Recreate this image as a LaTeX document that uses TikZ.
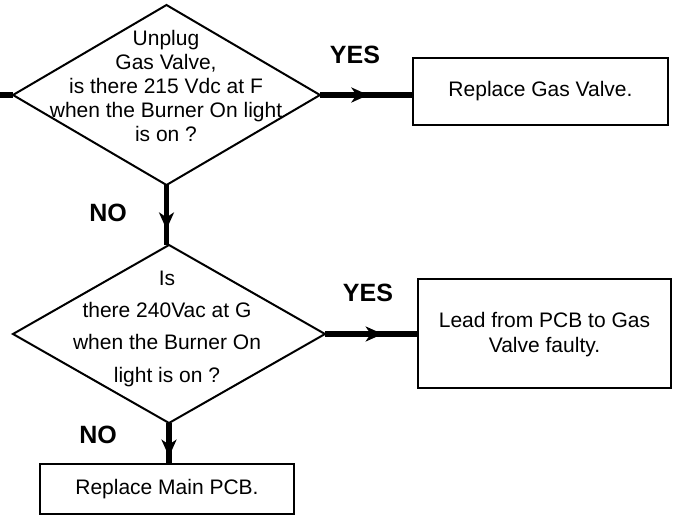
\documentclass[tikz,border=0pt]{standalone}
\usepackage{fontspec}
\setmainfont{Liberation Sans}
\usetikzlibrary{shapes.geometric,arrows.meta,decorations.markings}
\tikzset{
  dia/.style={draw, diamond, line width=2pt, inner sep=0pt, outer sep=0pt},
  box/.style={draw, rectangle, line width=2pt, inner sep=0pt, outer sep=0pt},
  txt/.style={align=center, inner sep=0pt, font=\fontsize{21}{24}\selectfont},
  lbl/.style={inner sep=0pt, font=\fontsize{25}{28}\selectfont\bfseries},
  conn/.style={line width=5.5pt},
  midarrow/.style={postaction={decorate, decoration={markings,
      mark=at position #1 with {\arrow{Stealth[length=17pt,width=15pt,inset=5pt]}}}}}
}
\begin{document}
\begin{tikzpicture}[x=1pt,y=-1pt]
\useasboundingbox (0,0) rectangle (675,517);
% diamonds
\node[dia, minimum width=307pt, minimum height=180pt] (d1) at (166.5,95) {};
\node[txt] (t1) at (166,86) {Unplug\\Gas Valve,\\is there 215 Vdc at F\\when the Burner On light\\is on ?};
\node[dia, minimum width=312pt, minimum height=178pt] (d2) at (169,334) {};
\node[txt, font=\fontsize{21}{32.3}\selectfont] (t2) at (167,328.5) {Is\\there 240Vac at G\\when the Burner On\\light is on ?};
% boxes
\node[box, minimum width=255pt, minimum height=67pt] (b1) at (540.5,91.5) {};
\node[txt] (bt1) at (540.5,91.5) {Replace Gas Valve.};
\node[box, minimum width=253pt, minimum height=109pt] (b2) at (544.5,333.5) {};
\node[txt, font=\fontsize{21}{25}\selectfont] (bt2) at (544.5,335) {Lead from PCB to Gas\\Valve faulty.};
\node[box, minimum width=254pt, minimum height=50pt] (b3) at (167,489) {};
\node[txt] (bt3) at (167,489) {Replace Main PCB.};
% labels
\node[lbl] (y1) at (355,55) {YES};
\node[lbl] (y2) at (368,293) {YES};
\node[lbl] (n1) at (108,213) {NO};
\node[lbl] (n2) at (98,435) {NO};
% connectors
\coordinate (in0) at (0,95);
\draw[conn] (in0) -- (d1.west);
\draw[conn, midarrow=0.52] (d1.east) -- (d1.east -| b1.west);
\draw[conn, midarrow=0.74] (d1.south) -- (d1.south |- d2.north);
\draw[conn, midarrow=0.62] (d2.east) -- (d2.east -| b2.west);
\draw[conn, midarrow=0.82] (d2.south) -- (d2.south |- b3.north);
\end{tikzpicture}
\end{document}
